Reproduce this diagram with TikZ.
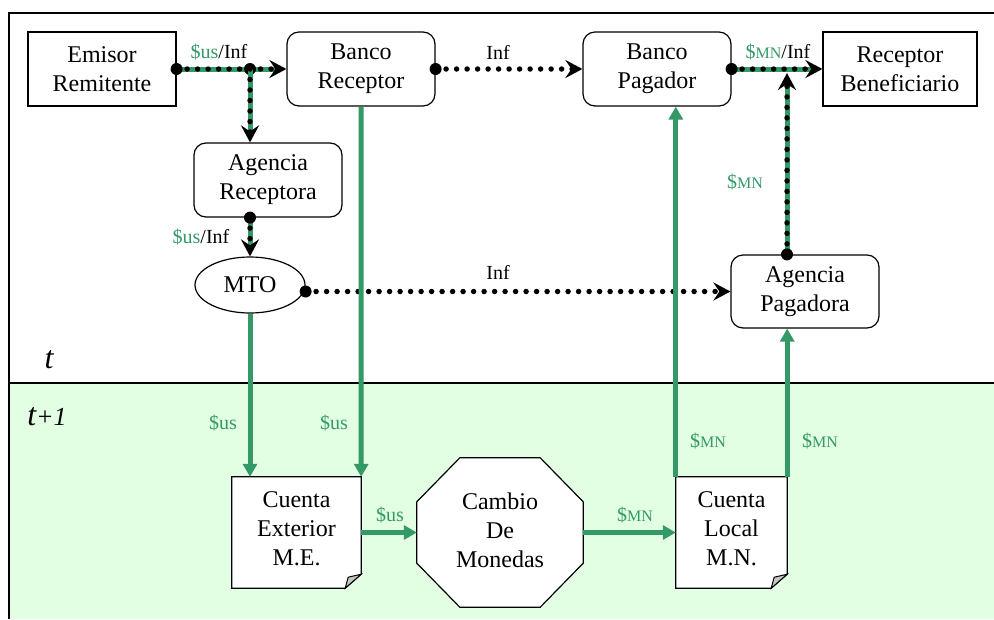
\documentclass[tikz,border=0pt]{standalone}
\usepackage{fontspec}
\setmainfont{Liberation Serif}
\usetikzlibrary{arrows.meta,calc,shapes.geometric}
\definecolor{gr}{RGB}{51,153,102}
\definecolor{bgc}{RGB}{227,255,227}
\newcommand{\mnlbl}{{\fontsize{20}{20}\selectfont\$}{\fontsize{16}{16}\selectfont MN}}
\begin{document}
\begin{tikzpicture}[x=1pt,y=-1pt,
  box/.style={draw, line width=1.2pt, minimum width=148pt, minimum height=74pt, align=center,
    font=\fontsize{24}{29}\selectfont, fill=white, inner sep=0pt},
  rbox/.style={box, rounded corners=12pt},
  plain/.style={inner sep=0pt, align=center, font=\fontsize{24}{29}\selectfont},
  lbl/.style={inner sep=0pt, font=\fontsize{20}{20}\selectfont},
  glbl/.style={lbl, text=gr},
  gline/.style={draw=gr, line width=5pt},
  garrow/.style={gline, -{Triangle[length=13pt,width=14pt]}},
  dline/.style={draw=black, line width=5.5pt, line cap=round, dash pattern=on 0pt off 10.5pt},
  darrow/.style={dline, -{Stealth[length=17pt,width=18pt,inset=6pt]}}
]
\useasboundingbox (0,0) rectangle (994,619);
% background
\fill[bgc] (9,383) rectangle (994,619);
\draw[line width=1.2pt] (994,13) -- (9,13) -- (9,619);
\draw[line width=1.2pt] (9,383) -- (994,383);
\node[inner sep=0pt, font=\fontsize{32}{32}\selectfont\itshape] (tlab) at (49,360) {t};
\node[inner sep=0pt, font=\itshape] (t1lab) at (47,417) {{\fontsize{32}{32}\selectfont t}{\fontsize{26}{26}\selectfont +1}};

% nodes
\node[box] (ER) at (102,69) {Emisor\\Remitente};
\node[rbox] (BR) at (361,69) {Banco\\Receptor};
\node[rbox] (BP) at (657,69) {Banco\\Pagador};
\node[box, minimum width=154pt] (RB) at (900,69) {Receptor\\Beneficiario};
\node[rbox] (AR) at (268,180) {Agencia\\Receptora};
\node[ellipse, draw, line width=1.2pt, minimum width=110pt, minimum height=56pt, fill=white,
  inner sep=0pt, font=\fontsize{24}{29}\selectfont] (MTO) at (250,285) {MTO};
\node[rbox, minimum height=73pt] (AP) at (805,291.5) {Agencia\\Pagadora};

% Cuenta Exterior
\node[minimum width=129pt, minimum height=111pt, inner sep=0pt] (CE) at (296.5,532.5) {};
\draw[line width=1.2pt, fill=white] (CE.north west) -- (CE.north east) -- ($(CE.south east)+(0,-14)$)
  -- ($(CE.south east)+(-16,0)$) -- (CE.south west) -- cycle;
\draw[line width=1pt, fill=gray!45] ($(CE.south east)+(0,-14)$) -- ($(CE.south east)+(-16,0)$) -- ($(CE.south east)+(-13,-11)$) -- cycle;
\node[plain] (CEt) at ($(CE)+(0,-4)$) {Cuenta\\Exterior\\M.E.};

% Cuenta Local
\node[minimum width=111pt, minimum height=111pt, inner sep=0pt] (CL) at (731.5,532.5) {};
\draw[line width=1.2pt, fill=white] (CL.north west) -- (CL.north east) -- ($(CL.south east)+(0,-14)$)
  -- ($(CL.south east)+(-16,0)$) -- (CL.south west) -- cycle;
\draw[line width=1pt, fill=gray!45] ($(CL.south east)+(0,-14)$) -- ($(CL.south east)+(-16,0)$) -- ($(CL.south east)+(-13,-11)$) -- cycle;
\node[plain] (CLt) at ($(CL)+(0,-4)$) {Cuenta\\Local\\M.N.};

% Cambio de Monedas (octagon)
\node[minimum width=166pt, minimum height=149pt, inner sep=0pt] (CM) at (500,532.5) {};
\draw[line width=1.2pt, fill=white]
  ($(CM.north west)+(43,0)$) -- ($(CM.north east)+(-43,0)$) -- ($(CM.north east)+(0,44)$)
  -- ($(CM.south east)+(0,-44)$) -- ($(CM.south east)+(-43,0)$) -- ($(CM.south west)+(43,0)$)
  -- ($(CM.south west)+(0,-44)$) -- ($(CM.north west)+(0,44)$) -- cycle;
\node[plain] (CMt) at ($(CM)+(0,-2)$) {Cambio\\De\\Monedas};

% junction coordinates
\coordinate (J1) at (250,69);
\coordinate (J2) at (787,69);

% green + dotted: Emisor -> Banco Receptor
\draw[gline, shorten >=10pt] (ER.east) -- (BR.west);
\draw[darrow] (ER.east) -- (BR.west);
\fill (ER.east) circle (6pt);
\fill (J1) circle (6pt);
% junction -> Agencia Receptora
\draw[gline, shorten >=10pt] (J1) -- (AR.north -| J1);
\draw[darrow] (J1) -- (AR.north -| J1);
% Agencia Receptora -> MTO
\draw[gline, shorten >=10pt] (AR.south -| J1) -- (MTO.north);
\draw[darrow] (AR.south -| J1) -- (MTO.north);
\fill (AR.south -| J1) circle (6pt);
% MTO -> Agencia Pagadora
\draw[darrow] (MTO.east |- AP.west) -- (AP.west);
\fill (MTO.east |- AP.west) circle (6pt);
% Banco Receptor -> Banco Pagador
\draw[darrow] (BR.east) -- (BP.west);
\fill (BR.east) circle (6pt);
% Banco Pagador -> Receptor
\draw[gline, shorten >=10pt] (BP.east) -- (RB.west);
\draw[darrow] (BP.east) -- (RB.west);
\fill (BP.east) circle (6pt);
% Agencia Pagadora -> junction
\draw[gline, shorten >=10pt] (AP.north -| J2) -- ($(J2)+(0,4)$);
\draw[darrow] (AP.north -| J2) -- ($(J2)+(0,4)$);
\fill (AP.north -| J2) circle (6pt);

% green arrows
\draw[garrow] (MTO.south) -- (CE.north -| MTO.south);
\draw[garrow] (BR.south) -- (CE.north east);
\draw[garrow] (CE.east) -- (CM.west);
\draw[garrow] (CM.east) -- (CL.west);
\draw[garrow] (CL.north west) -- (BP.south -| CL.north west);
\draw[garrow] (CL.north east) -- (AP.south -| CL.north east);

% labels
\node[lbl] (l1) at (219,52) {\textcolor{gr}{\$us}/Inf};
\node[lbl] (l2) at (498,52) {Inf};
\node[lbl] (l3) at (778,52) {\textcolor{gr}{\mnlbl}/Inf};
\node[lbl] (l4) at (201,237) {\textcolor{gr}{\$us}/Inf};
\node[lbl] (l5) at (498,272) {Inf};
\node[glbl] (l6) at (745,182) {\mnlbl};
\node[glbl] (l7) at (223,423) {\$us};
\node[glbl] (l8) at (334,423) {\$us};
\node[glbl] (l9) at (390,515) {\$us};
\node[glbl] (l10) at (635,515) {\mnlbl};
\node[glbl] (l11) at (708,441) {\mnlbl};
\node[glbl] (l12) at (820,441) {\mnlbl};
\end{tikzpicture}
\end{document}
